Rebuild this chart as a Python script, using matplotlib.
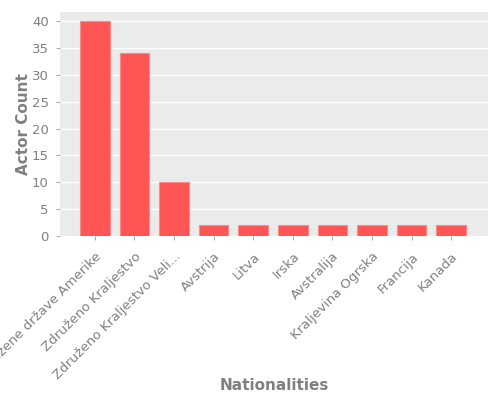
import matplotlib
matplotlib.use('Agg')
import matplotlib.pyplot as plt
import numpy as np

nationalities = ['Združene države Amerike', 'Združeno Kraljestvo',
                 'Združeno Kraljestvo Veli...', 'Avstrija', 'Litva', 'Irska',
                 'Avstralija', 'Kraljevina Ogrska', 'Francija', 'Kanada']
actor_counts = [40, 34, 10, 2, 2, 2, 2, 2, 2, 2]

grey = '#808080'
fig = plt.figure(figsize=(5, 4), dpi=100)
ax = fig.add_axes([0.12, 0.41, 0.856, 0.56])
ax.set_facecolor('#EBEBEB')
x = np.arange(len(nationalities))
ax.bar(x, actor_counts, width=0.75, color='#FF5555', edgecolor='#FF8888', linewidth=0.8, zorder=3)
ax.set_xlim(-0.88, 9.93)
ax.set_ylim(0, 41.7)
ax.set_yticks(range(0, 41, 5))
ax.grid(axis='y', color='white', linewidth=1, zorder=0)
for s in ax.spines.values():
    s.set_visible(False)
ax.set_xticks(x)
ax.set_xticklabels(nationalities, rotation=45, ha='right', rotation_mode='anchor')
ax.tick_params(colors=grey, labelsize=9.5, length=3, color='#999999', width=0.6, pad=5)
ax.tick_params(axis='x', pad=7)
for lab in ax.get_xticklabels() + ax.get_yticklabels():
    lab.set_color(grey)
ax.set_ylabel('Actor Count', color=grey, fontsize=11, fontweight='bold')
ax.set_xlabel('Nationalities', color=grey, fontsize=11, fontweight='bold')
ax.xaxis.set_label_coords(0.5, -0.635)
ax.yaxis.set_label_coords(-0.068, 0.5)
fig.savefig('out.png', dpi=100)
